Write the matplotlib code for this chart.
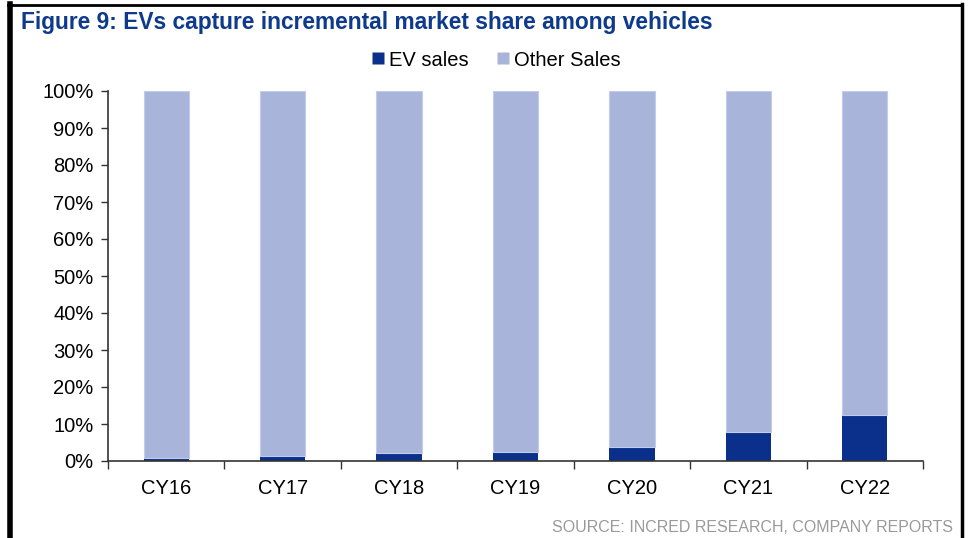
import matplotlib.pyplot as plt
import numpy as np
from matplotlib.lines import Line2D
from matplotlib.ticker import FuncFormatter, FixedLocator

plt.rcParams["font.family"] = ["Liberation Sans", "DejaVu Sans"]

years = ["CY16", "CY17", "CY18", "CY19", "CY20", "CY21", "CY22"]
ev_share = [0.8, 1.3, 2.2, 2.3, 3.9, 7.9, 12.5]
other_share = [100 - v for v in ev_share]
y_ticks = list(range(0, 101, 10))

EV_COLOR = "#0A308C"
OTHER_COLOR = "#A8B4D9"
TITLE_COLOR = "#0E3A8C"

fig = plt.figure(figsize=(9.69, 5.38), dpi=100)
W, H = 969, 538

# axes box in pixel coords: left 108, right 923, top 91, bottom 461
ax = fig.add_axes([108 / W, 1 - 461 / H, (923 - 108) / W, (461 - 91) / H])

x = np.arange(len(years))
ax.bar(x, ev_share, width=0.39, color=EV_COLOR, edgecolor="none", zorder=3)
ax.bar(x, other_share, width=0.39, bottom=ev_share, color=OTHER_COLOR,
       edgecolor="#C3CCEA", linewidth=0.8, zorder=3)

ax.set_xlim(-0.5, len(years) - 0.5)
ax.set_ylim(0, 100)
ax.set_yticks(y_ticks)
ax.yaxis.set_major_formatter(FuncFormatter(lambda v, _: f"{v:.0f}%"))

# category labels centred, ticks at category boundaries
ax.set_xticks(x)
ax.set_xticklabels(years)
ax.xaxis.set_minor_locator(FixedLocator(np.arange(-0.5, len(years), 1.0)))
ax.tick_params(axis="x", which="major", length=0, pad=13, labelsize=14.5)
ax.tick_params(axis="x", which="minor", length=6, width=1, color="#333333",
               direction="out")
ax.tick_params(axis="y", length=5, width=1, color="#333333", direction="out",
               labelsize=14.5, pad=5.5)

for side in ["top", "right"]:
    ax.spines[side].set_visible(False)
for side in ["left", "bottom"]:
    ax.spines[side].set_color("#333333")
    ax.spines[side].set_linewidth(1.2)
ax.spines["bottom"].set_zorder(4)

fig.text(21 / W, 1 - 22 / H, "Figure 9: EVs capture incremental market share among vehicles",
         fontsize=16.4, fontweight="bold", color=TITLE_COLOR, ha="left", va="center")

handles = [
    Line2D([], [], marker="s", linestyle="none", markersize=9,
           markerfacecolor=EV_COLOR, markeredgecolor="none", label="EV sales"),
    Line2D([], [], marker="s", linestyle="none", markersize=9,
           markerfacecolor=OTHER_COLOR, markeredgecolor="none", label="Other Sales"),
]
fig.legend(handles=handles, loc="center", bbox_to_anchor=(494 / W, 1 - 60 / H),
           ncol=2, frameon=False, fontsize=14.5, handletextpad=0.05,
           columnspacing=1.2, handlelength=1.0)

fig.text(953 / W, 1 - 527 / H, "SOURCE: INCRED RESEARCH, COMPANY REPORTS",
         fontsize=11.5, color="#9A9A9A", ha="right", va="center")

# black frame on left, top, right
fig.add_artist(Line2D([9.5 / W, 9.5 / W], [0, 1 - 4 / H], color="black", linewidth=4))
fig.add_artist(Line2D([8 / W, 962 / W], [1 - 4.5 / H, 1 - 4.5 / H], color="black", linewidth=2))
fig.add_artist(Line2D([961.5 / W, 961.5 / W], [0, 1 - 4 / H], color="black", linewidth=2.5))

fig.savefig("out.png", dpi=100)
